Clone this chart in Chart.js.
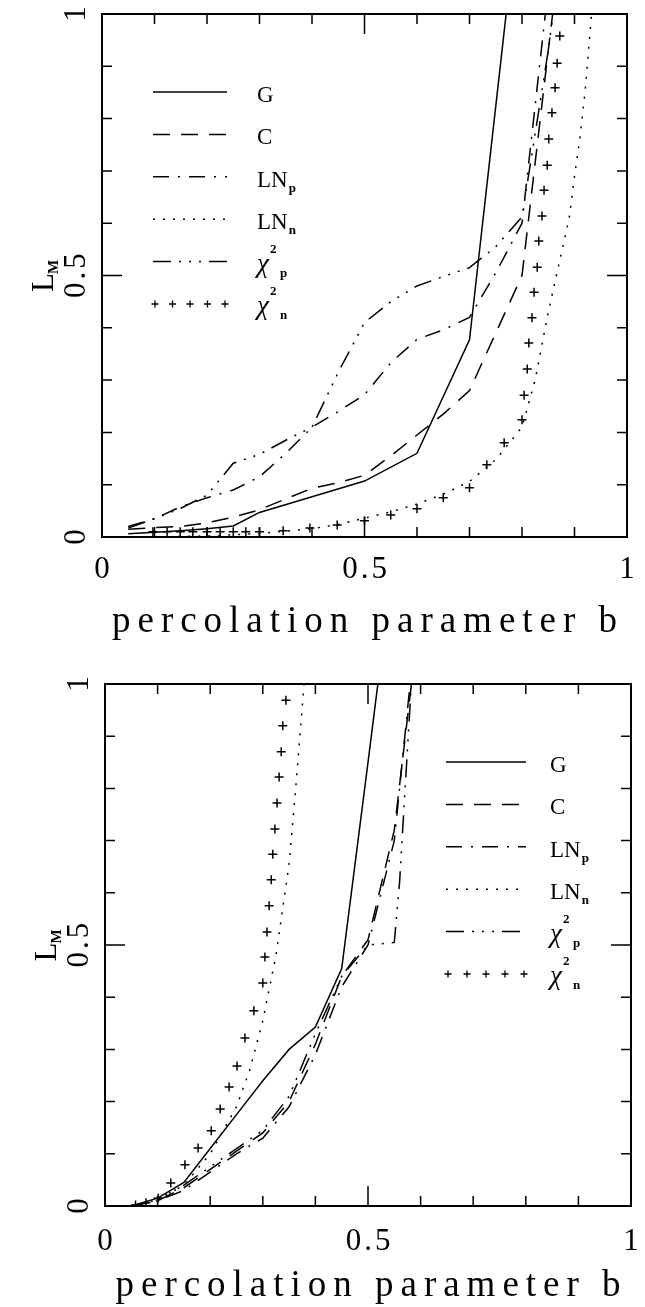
<!DOCTYPE html>
<html>
<head>
<meta charset="utf-8">
<script src="https://cdn.jsdelivr.net/npm/chart.js@4.4.1/dist/chart.umd.min.js"></script>
<style>
  html, body { margin: 0; padding: 0; background: #fff; }
  canvas { display: block; }
</style>
</head>
<body>
<canvas id="top" width="645" height="653"></canvas>
<canvas id="bottom" width="645" height="654"></canvas>
<script>
// ---- data: [b, L_M] ----
// upper panel
const topG = [[0.05,0.006],[0.1,0.009],[0.15,0.012],[0.2,0.016],[0.25,0.021],[0.3,0.047],[0.4,0.077],[0.5,0.107],[0.6,0.16],[0.7,0.377],[0.8,1.27]];
const topC = [[0.05,0.015],[0.1,0.018],[0.15,0.02],[0.2,0.027],[0.25,0.038],[0.3,0.052],[0.35,0.073],[0.4,0.093],[0.45,0.104],[0.5,0.118],[0.55,0.155],[0.6,0.195],[0.65,0.235],[0.7,0.28],[0.75,0.39],[0.8,0.5],[0.85,0.93],[0.9,1.35]];
const topLNp = [[0.05,0.02],[0.1,0.035],[0.15,0.058],[0.2,0.075],[0.25,0.09],[0.3,0.115],[0.35,0.16],[0.4,0.21],[0.45,0.24],[0.5,0.272],[0.55,0.333],[0.6,0.378],[0.65,0.396],[0.7,0.42],[0.75,0.505],[0.8,0.6],[0.85,1.05]];
const topLNn = [[0.05,0.0],[0.1,0.0],[0.15,0.001],[0.2,0.002],[0.25,0.004],[0.3,0.007],[0.35,0.011],[0.4,0.016],[0.45,0.024],[0.5,0.036],[0.55,0.048],[0.6,0.063],[0.65,0.082],[0.7,0.106],[0.75,0.148],[0.8,0.21],[0.825,0.3],[0.85,0.43],[0.87,0.52],[0.89,0.61],[0.9,0.69],[0.91,0.76],[0.92,0.85],[0.93,0.97],[0.935,1.03]];
const topChiP = [[0.05,0.017],[0.1,0.035],[0.15,0.055],[0.2,0.08],[0.25,0.141],[0.3,0.158],[0.35,0.185],[0.4,0.21],[0.45,0.315],[0.5,0.41],[0.55,0.45],[0.6,0.48],[0.65,0.498],[0.7,0.515],[0.75,0.555],[0.8,0.612],[0.85,0.93],[0.87,1.08]];
const topChiN = [[0.097,0.01],[0.124,0.01],[0.149,0.01],[0.173,0.01],[0.2,0.01],[0.225,0.01],[0.25,0.01],[0.274,0.01],[0.3,0.01],[0.345,0.012],[0.396,0.017],[0.448,0.023],[0.5,0.031],[0.55,0.042],[0.6,0.054],[0.65,0.075],[0.7,0.094],[0.733,0.138],[0.766,0.18],[0.8,0.224],[0.804,0.271],[0.81,0.321],[0.813,0.371],[0.819,0.419],[0.823,0.468],[0.829,0.516],[0.832,0.566],[0.838,0.614],[0.842,0.663],[0.848,0.711],[0.851,0.761],[0.857,0.811],[0.863,0.859],[0.867,0.906],[0.872,0.958]];

// lower panel
const botG = [[0.05,0.0],[0.1,0.015],[0.15,0.045],[0.2,0.11],[0.25,0.175],[0.3,0.24],[0.35,0.3],[0.4,0.343],[0.45,0.455],[0.5,0.85],[0.55,1.25]];
const botC = [[0.05,0.0],[0.1,0.01],[0.15,0.035],[0.2,0.07],[0.25,0.105],[0.3,0.14],[0.35,0.2],[0.4,0.31],[0.45,0.44],[0.5,0.51],[0.55,0.72],[0.6,1.15]];
const botLNp = [[0.05,0.0],[0.1,0.01],[0.15,0.03],[0.2,0.065],[0.25,0.1],[0.3,0.13],[0.35,0.19],[0.4,0.29],[0.45,0.42],[0.5,0.5],[0.55,0.7],[0.6,1.2]];
const botLNn = [[0.05,0.0],[0.1,0.012],[0.15,0.04],[0.2,0.1],[0.25,0.19],[0.275,0.26],[0.3,0.355],[0.325,0.48],[0.35,0.655],[0.365,0.83],[0.38,1.02]];
const botChiP = [[0.05,0.0],[0.1,0.012],[0.15,0.04],[0.2,0.075],[0.25,0.11],[0.3,0.145],[0.35,0.21],[0.4,0.33],[0.45,0.44],[0.5,0.5],[0.55,0.505],[0.56,0.62],[0.6,1.3]];
const botChiN = [[0.058,0.002],[0.078,0.006],[0.101,0.015],[0.125,0.044],[0.152,0.079],[0.177,0.111],[0.202,0.144],[0.219,0.186],[0.236,0.228],[0.251,0.268],[0.266,0.322],[0.283,0.374],[0.3,0.427],[0.304,0.477],[0.308,0.525],[0.312,0.575],[0.316,0.625],[0.319,0.674],[0.323,0.722],[0.327,0.772],[0.331,0.822],[0.335,0.87],[0.338,0.92],[0.344,0.969]];

const legendMain = ["G", "C", "LN", "LN", "\u03c7", "\u03c7"];
const legendSup = ["", "", "", "", "2", "2"];
const legendSub = ["", "", "p", "n", "p", "n"];

const tickValues = [0.1, 0.2, 0.3, 0.4, 0.5, 0.6, 0.7, 0.8, 0.9];
const labelValues = [0, 0.5, 1];
const tickLabels = ["0", "0.5", "1"];
const xTitle = "percolation parameter b";

const SERIF = '"Liberation Serif", "DejaVu Serif", serif';

const styles = [
    { borderDash: [] },
    { borderDash: [17, 11] },
    { borderDash: [16, 9, 2, 9] },
    { borderDash: [2, 8] },
    { borderDash: [18, 8, 2, 8, 2, 8, 2, 8] },
    { cross: true },
];

function makeDatasets(series) {
    return series.map((pts, i) => {
        const data = pts.map(p => ({ x: p[0], y: p[1] }));
        if (styles[i].cross) {
            return {
                data, showLine: false, pointStyle: 'cross', pointRadius: 4.5,
                pointBorderWidth: 1.5, pointBorderColor: '#000', pointBackgroundColor: '#000',
            };
        }
        return {
            data, showLine: true, borderColor: '#000', borderWidth: 1.5,
            borderDash: styles[i].borderDash, pointRadius: 0, fill: false,
        };
    });
}

const framePlugin = {
    id: 'frame',
    afterDraw(chart, args, opts) {
        const { ctx, chartArea: a, scales: { x, y } } = chart;
        ctx.save();
        ctx.strokeStyle = '#000';
        ctx.fillStyle = '#000';
        ctx.lineWidth = 2;
        ctx.strokeRect(a.left, a.top, a.right - a.left, a.bottom - a.top);
        ctx.lineWidth = 1.5;
        ctx.beginPath();
        tickValues.forEach(v => {
            const len = v === 0.5 ? 20 : 10;
            const px = x.getPixelForValue(v), py = y.getPixelForValue(v);
            ctx.moveTo(px, a.bottom); ctx.lineTo(px, a.bottom - len);
            ctx.moveTo(px, a.top); ctx.lineTo(px, a.top + len);
            ctx.moveTo(a.left, py); ctx.lineTo(a.left + len, py);
            ctx.moveTo(a.right, py); ctx.lineTo(a.right - len, py);
        });
        ctx.stroke();

        // tick labels
        ctx.font = '31px ' + SERIF;
        ctx.letterSpacing = '3px';
        ctx.textAlign = 'center';
        ctx.textBaseline = 'middle';
        labelValues.forEach((v, i) => {
            ctx.fillText(tickLabels[i], x.getPixelForValue(v) + 1.5, a.bottom + opts.xLabelGap);
            ctx.save();
            ctx.translate(opts.yLabelX, y.getPixelForValue(v));
            ctx.rotate(-Math.PI / 2);
            ctx.fillText(tickLabels[i], 1.5, 0);
            ctx.restore();
        });

        // x title, stretched to the width in the figure
        ctx.font = '37px ' + SERIF;
        ctx.letterSpacing = '0px';
        const w0 = ctx.measureText(xTitle).width;
        const sp = (opts.xTitleWidth - w0) / (xTitle.length - 1);
        ctx.letterSpacing = sp + 'px';
        ctx.fillText(xTitle, (a.left + a.right) / 2 + sp / 2, a.bottom + opts.xTitleGap);

        // y title L_M
        ctx.letterSpacing = '0px';
        ctx.save();
        ctx.translate(opts.yTitleX, (a.top + a.bottom) / 2);
        ctx.rotate(-Math.PI / 2);
        ctx.textAlign = 'left';
        ctx.textBaseline = 'alphabetic';
        ctx.font = '31px ' + SERIF;
        const wl = ctx.measureText('L').width;
        ctx.font = 'bold 15px ' + SERIF;
        const wm = ctx.measureText('M').width;
        const start = -(wl + wm) / 2;
        ctx.font = '31px ' + SERIF;
        ctx.fillText('L', start, 10);
        ctx.font = 'bold 15px ' + SERIF;
        ctx.fillText('M', start + wl - 1, 15);
        ctx.restore();
        ctx.restore();
    }
};

const keyPlugin = {
    id: 'key',
    afterDraw(chart, args, opts) {
        const { ctx } = chart;
        ctx.save();
        ctx.strokeStyle = '#000';
        ctx.fillStyle = '#000';
        chart.data.datasets.forEach((ds, i) => {
            const yy = opts.y0 + i * opts.dy;
            if (ds.showLine) {
                ctx.lineWidth = 1.5;
                ctx.setLineDash(ds.borderDash);
                ctx.beginPath();
                ctx.moveTo(opts.x0, yy);
                ctx.lineTo(opts.x1, yy);
                ctx.stroke();
                ctx.setLineDash([]);
            } else {
                ctx.lineWidth = 1.3;
                for (let k = 0; k < 5; k++) {
                    const cx = opts.x0 + 2 + k * (opts.x1 - opts.x0 - 4) / 4;
                    ctx.beginPath();
                    ctx.moveTo(cx - 3.5, yy); ctx.lineTo(cx + 3.5, yy);
                    ctx.moveTo(cx, yy - 3.5); ctx.lineTo(cx, yy + 3.5);
                    ctx.stroke();
                }
            }
            ctx.textAlign = 'left';
            ctx.textBaseline = 'alphabetic';
            const greek = legendMain[i] === '\u03c7';
            ctx.font = (greek ? 'italic 27px ' : '23px ') + SERIF;
            ctx.fillText(legendMain[i], opts.tx, yy + 10);
            let w = ctx.measureText(legendMain[i]).width;
            ctx.font = 'bold 13px ' + SERIF;
            if (legendSup[i]) {
                ctx.fillText(legendSup[i], opts.tx + w + 1, yy - 9);
                w += 10;
            }
            if (legendSub[i]) {
                ctx.fillText(legendSub[i], opts.tx + w + 1, yy + 15);
            }
        });
        ctx.restore();
    }
};

function makeChart(id, series, padding, frameOpts, keyOpts) {
    return new Chart(document.getElementById(id), {
        type: 'scatter',
        data: { datasets: makeDatasets(series) },
        options: {
            responsive: false,
            animation: false,
            devicePixelRatio: 1,
            layout: { padding },
            plugins: {
                legend: { display: false },
                tooltip: { enabled: false },
                frame: frameOpts,
                key: keyOpts,
            },
            scales: {
                x: { type: 'linear', min: 0, max: 1, display: false },
                y: { type: 'linear', min: 0, max: 1, display: false },
            },
        },
        plugins: [framePlugin, keyPlugin],
    });
}

makeChart('top', [topG, topC, topLNp, topLNn, topChiP, topChiN],
    { left: 102, right: 18, top: 14, bottom: 116 },
    { xLabelGap: 33, xTitleGap: 85, xTitleWidth: 505, yLabelX: 77, yTitleX: 43 },
    { x0: 153, x1: 227, tx: 257, y0: 92, dy: 42.4 });

makeChart('bottom', [botG, botC, botLNp, botLNn, botChiP, botChiN],
    { left: 105, right: 14, top: 31, bottom: 101 },
    { xLabelGap: 36, xTitleGap: 80, xTitleWidth: 505, yLabelX: 80, yTitleX: 46 },
    { x0: 446, x1: 526, tx: 550, y0: 109, dy: 42.4 });
</script>
</body>
</html>
